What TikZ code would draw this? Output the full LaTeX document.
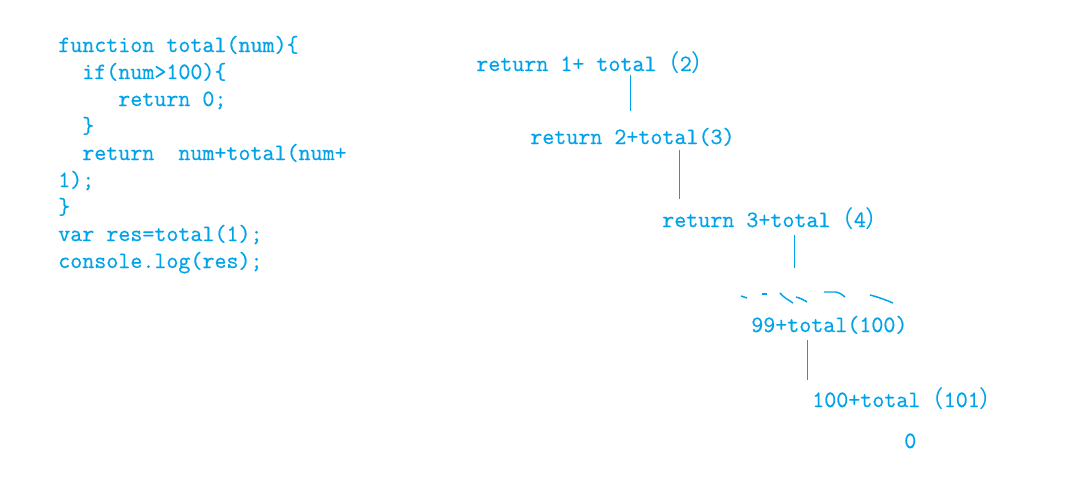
\documentclass[tikz,border=0pt]{standalone}
\usepackage{fontspec}
\setmonofont{lmmono12-regular}[Extension=.otf, FakeBold=0.6]
\newfontfamily\cjk{Noto Sans CJK SC}
\newcommand{\zlp}{{\cjk （}}
\newcommand{\zrp}{{\cjk ）}}
\definecolor{paintblue}{RGB}{0,162,232}
\begin{document}
\begin{tikzpicture}[
    x=0.75pt, y=-0.75pt,
    every node/.style={inner sep=0pt, anchor=base west, text=paintblue,
      font=\ttfamily\fontsize{17.5pt}{20pt}\selectfont},
    stroke/.style={draw=paintblue, line width=0.75pt},
    scribble/.style={draw=paintblue, line width=1.1pt}
  ]
  \useasboundingbox (0,0) rectangle (1076,496);
  % the code
  \node (c1) at (58,52)  {function total(num)\{};
  \node (c2) at (82,79)  {if(num>100)\{};
  \node (c3) at (118,106) {return 0;};
  \node (c4) at (82,133) {\}};
  \node (c5) at (82,160) {return~~num+total(num+};
  \node (c6) at (58,187) {1);};
  \node (c7) at (58,214) {\}};
  \node (c8) at (58,241) {var res=total(1);};
  \node (c9) at (58,268) {console.log(res);};
  % the calls
  \node (r1) at (476,71)  {return 1+ total\zlp 2\zrp};
  \node (r2) at (530,144) {return 2+total(3)};
  \node (r3) at (662,227) {return 3+total\zlp 4\zrp};
  \node (r99) at (751,332) {99+total(100)};
  \node (r100) at (812,407) {100+total\zlp 101\zrp};
  \node (r0) at (904,448) {0};
  % links
  \draw[stroke] (r1.south -| 630,0) ++(0,1) -- (630,111);
  \draw[stroke] (r2.south -| 679,0) ++(0,4) -- (679,199);
  \draw[stroke] (r3.south -| 794,0) ++(0,5) -- (794,268);
  \draw[stroke] (r99.south -| 807,0) ++(0,6) -- (807,380);
  % the skipped calls
  \draw[scribble] (741,296) -- (747,298);
  \draw[scribble] (762,294) -- (767,294);
  \draw[scribble] (780,293) .. controls (784,298) and (789,300) .. (793,303);
  \draw[scribble] (796,297) .. controls (800,298) and (804,300) .. (807,302);
  \draw[scribble] (824,292) -- (836,292) .. controls (840,293) and (843,295) .. (845,297);
  \draw[scribble] (870,295) .. controls (878,297) and (886,300) .. (893,303);
\end{tikzpicture}
\end{document}
